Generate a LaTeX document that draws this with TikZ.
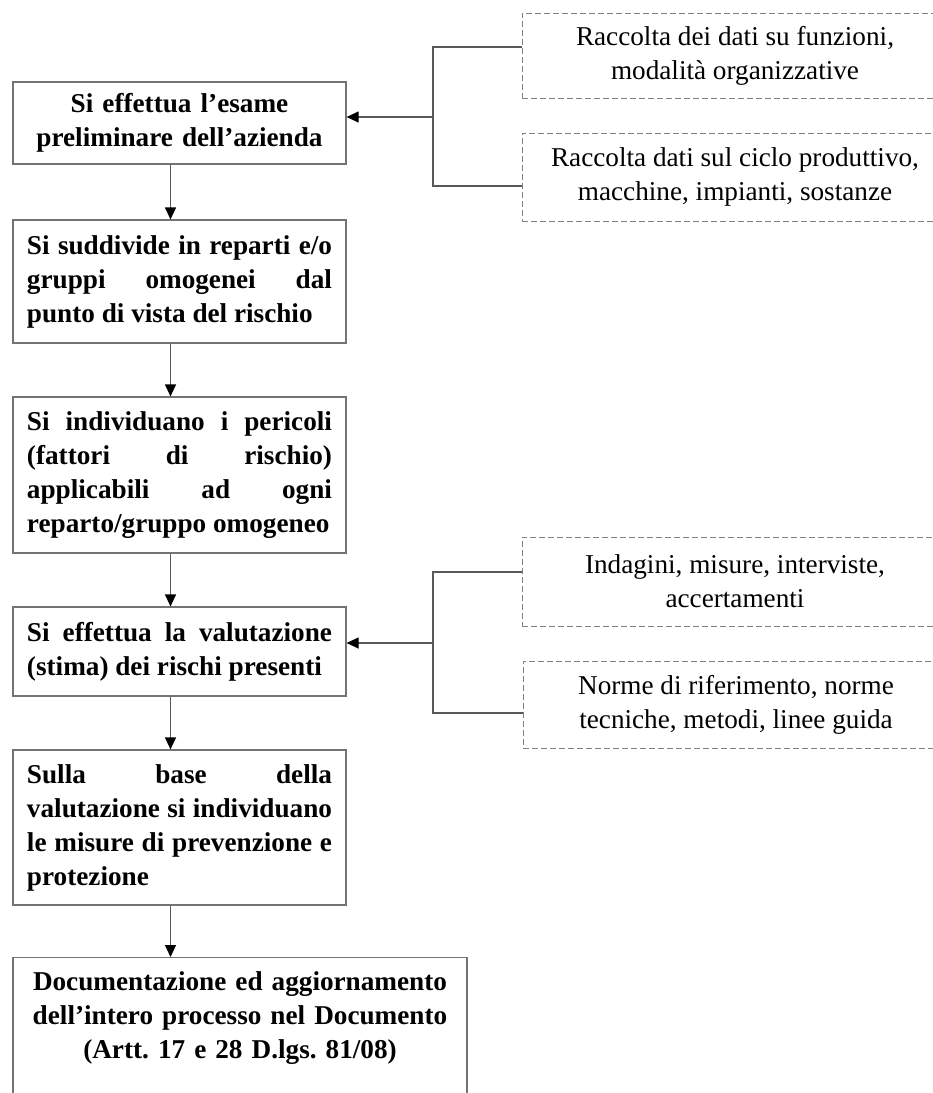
\documentclass[tikz,border=0pt]{standalone}
\usepackage{fontspec}
\setmainfont{Liberation Serif}
\usetikzlibrary{arrows.meta, positioning, calc}
\tolerance=10000
\hbadness=10000
\frenchspacing

\begin{document}
\begin{tikzpicture}[
    x=1pt, y=-1pt,
    stepbox/.style={draw=black!55, line width=1.2pt, rectangle, inner xsep=14pt, inner ysep=0pt, text width=305pt, align=justify, font=\fontsize{27.2}{34}\selectfont\bfseries},
    infobox/.style={draw=black!50, line width=1pt, dash pattern=on 6pt off 3pt, rectangle, minimum width=426pt, align=center, font=\fontsize{27.2}{34}\selectfont},
    link/.style={draw=black!65, line width=1.2pt},
    arr/.style={link, -{Triangle[length=12pt, width=11pt, color=black]}}
]
\useasboundingbox (0,0) rectangle (933,1093);
\clip (0,0) rectangle (933,1093);

% Steps
\node[stepbox, align=center, minimum height=82pt] (esame) at (179.5,123) {Si effettua l’esame\\preliminare dell’azienda};
\node[stepbox, minimum height=123pt] (reparti) at (179.5,281.5) {Si suddivide in reparti e/o\linebreak gruppi omogenei dal\linebreak punto di vista del rischio};
\node[stepbox, minimum height=156pt] (pericoli) at (179.5,475) {Si individuano i pericoli\linebreak (fattori di rischio)\linebreak applicabili ad ogni\linebreak reparto/gruppo omogeneo};
\node[stepbox, minimum height=89pt] (valutazione) at (179.5,651.5) {Si effettua la valutazione\linebreak (stima) dei rischi presenti};
\node[stepbox, minimum height=155pt] (misure) at (179.5,827.5) {Sulla base della\linebreak valutazione si individuano\linebreak le misure di prevenzione e\linebreak protezione};
\node[stepbox, anchor=north, text width=426pt, align=center, inner ysep=14pt] (documento) at (240,957) {Documentazione ed aggiornamento\\dell’intero processo nel Documento\\(Artt. 17 e 28 D.lgs. 81/08)\rule[-140pt]{0pt}{140pt}};

% Inputs (dashed)
\node[infobox, minimum height=85pt] (funzioni) at (735,55.5) {Raccolta dei dati su funzioni,\\modalità organizzative};
\node[infobox, minimum height=88pt] (ciclo) at (735,177) {Raccolta dati sul ciclo produttivo,\\macchine, impianti, sostanze};
\node[infobox, minimum height=89pt] (indagini) at (735,581.5) {Indagini, misure, interviste,\\accertamenti};
\node[infobox, minimum height=87pt] (norme) at (736,704.5) {Norme di riferimento, norme\\tecniche, metodi, linee guida};

% Flow
\draw[arr] ([xshift=-9pt]esame.south) -- ([xshift=-9pt]reparti.north);
\draw[arr] ([xshift=-9pt]reparti.south) -- ([xshift=-9pt]pericoli.north);
\draw[arr] ([xshift=-9pt]pericoli.south) -- ([xshift=-9pt]valutazione.north);
\draw[arr] ([xshift=-9pt]valutazione.south) -- ([xshift=-9pt]misure.north);
\draw[arr] ([xshift=-9pt]misure.south) coordinate (misureout) -- (misureout |- documento.north);

% Brackets
\coordinate (splitA) at (433,117);
\coordinate (upA) at (433,47);
\coordinate (downA) at (433,186);
\draw[link] (upA -| funzioni.west) -- (upA) -- (downA) -- (downA -| ciclo.west);
\draw[arr] (splitA) -- (splitA -| esame.east);

\coordinate (splitB) at (433,643);
\coordinate (upB) at (433,572);
\coordinate (downB) at (433,713);
\draw[link] (upB -| indagini.west) -- (upB) -- (downB) -- (downB -| norme.west);
\draw[arr] (splitB) -- (splitB -| valutazione.east);

\end{tikzpicture}
\end{document}
